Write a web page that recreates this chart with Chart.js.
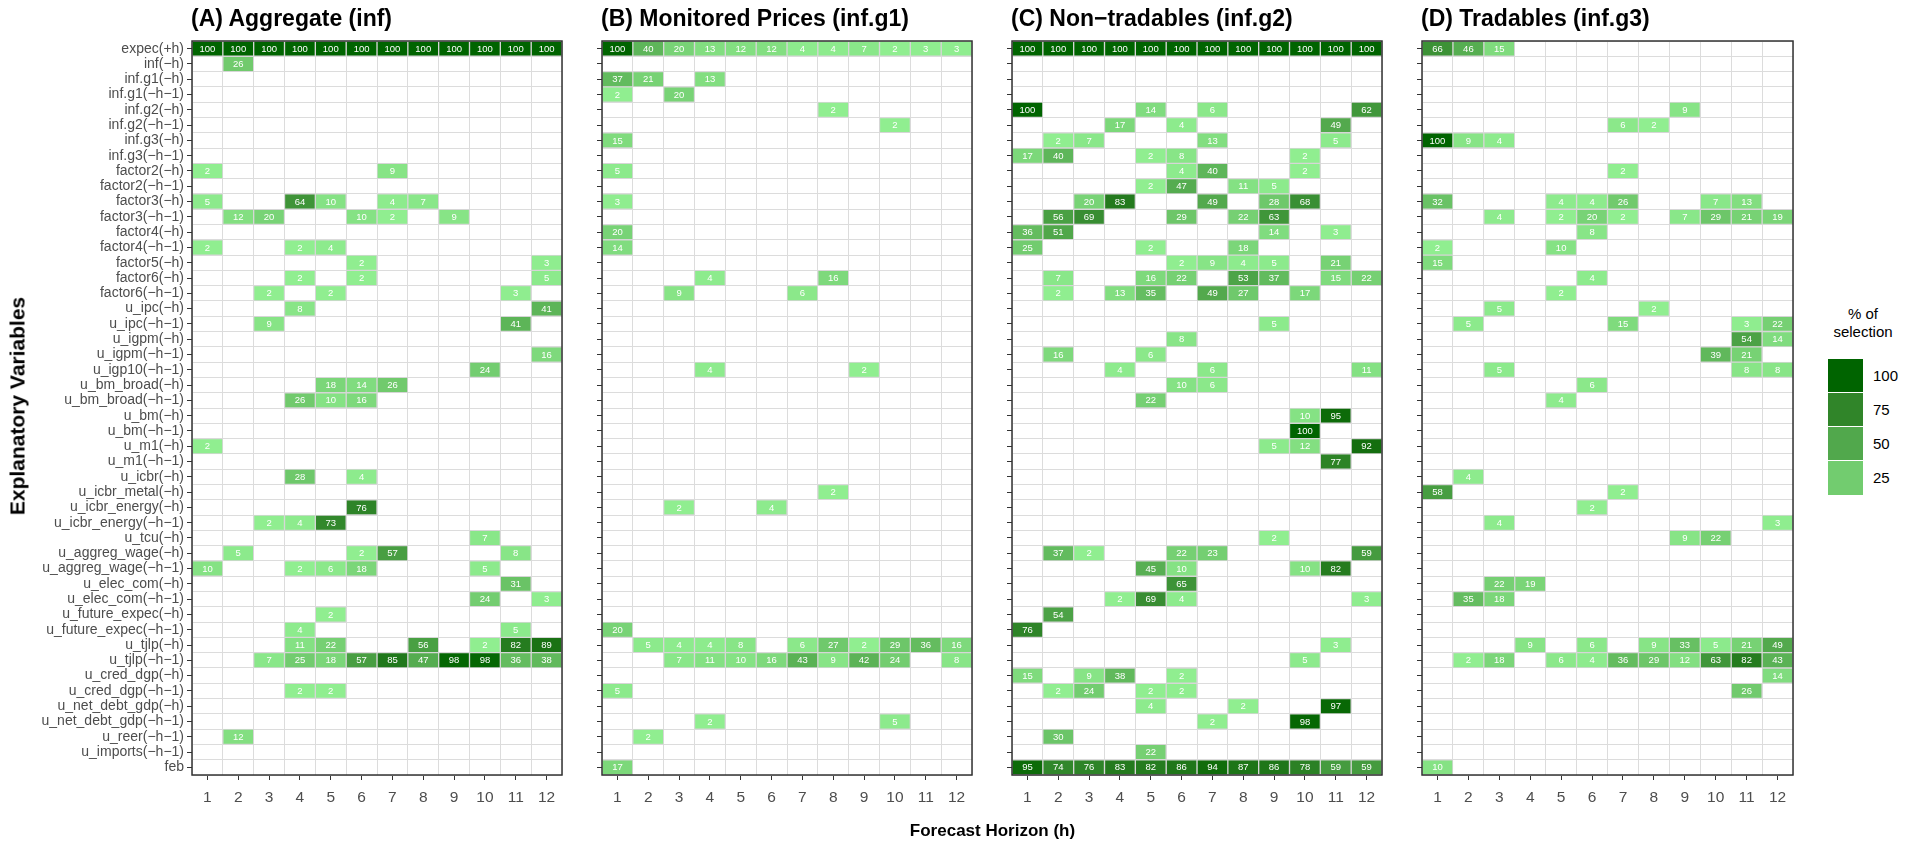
<!DOCTYPE html>
<html>
<head>
<meta charset="utf-8">
<script src="https://cdn.jsdelivr.net/npm/chart.js@4.4.1/dist/chart.umd.min.js"></script>
<style>
  html, body { margin:0; padding:0; background:#ffffff; }
  body { width:1919px; height:843px; position:relative; overflow:hidden; font-family:"Liberation Sans", Arial, sans-serif; }
  canvas { position:absolute; top:0; }
  .ptitle { position:absolute; top:7px; font-weight:bold; font-size:23px; line-height:23px; color:#000; white-space:nowrap; }
  #xtitle { position:absolute; left:0; width:1985px; text-align:center; top:822px; font-weight:bold; font-size:17px; line-height:17px; }
  #ytitle { position:absolute; left:17px; top:406px; transform:translate(-50%,-50%) rotate(-90deg); font-weight:bold; font-size:21px; line-height:21px; white-space:nowrap; }
  #legend { position:absolute; left:1810px; top:305px; width:110px; }
  #legend .lt { text-align:center; font-size:15px; line-height:18px; margin-left:-2px; width:110px; }
  #legend .row { position:absolute; left:18px; width:35px; height:34px; }
  #legend .lab { position:absolute; left:63px; font-size:15px; line-height:34px; }
</style>
</head>
<body>
<canvas id="cA"></canvas>
<canvas id="cB"></canvas>
<canvas id="cC"></canvas>
<canvas id="cD"></canvas>
<div id="titles"></div>
<div id="xtitle">Forecast Horizon (h)</div>
<div id="ytitle">Explanatory Variables</div>
<div id="legend"><div class="lt">% of<br>selection</div></div>
<script>
const rowLabels = [
  "expec(+h)","inf(−h)","inf.g1(−h)","inf.g1(−h−1)","inf.g2(−h)","inf.g2(−h−1)",
  "inf.g3(−h)","inf.g3(−h−1)","factor2(−h)","factor2(−h−1)","factor3(−h)","factor3(−h−1)",
  "factor4(−h)","factor4(−h−1)","factor5(−h)","factor6(−h)","factor6(−h−1)","u_ipc(−h)",
  "u_ipc(−h−1)","u_igpm(−h)","u_igpm(−h−1)","u_igp10(−h−1)","u_bm_broad(−h)","u_bm_broad(−h−1)",
  "u_bm(−h)","u_bm(−h−1)","u_m1(−h)","u_m1(−h−1)","u_icbr(−h)","u_icbr_metal(−h)",
  "u_icbr_energy(−h)","u_icbr_energy(−h−1)","u_tcu(−h)","u_aggreg_wage(−h)","u_aggreg_wage(−h−1)","u_elec_com(−h)",
  "u_elec_com(−h−1)","u_future_expec(−h)","u_future_expec(−h−1)","u_tjlp(−h)","u_tjlp(−h−1)","u_cred_dgp(−h)",
  "u_cred_dgp(−h−1)","u_net_debt_gdp(−h)","u_net_debt_gdp(−h−1)","u_reer(−h−1)","u_imports(−h−1)","feb"
];
const horizons = [1,2,3,4,5,6,7,8,9,10,11,12];
const horizonTickLabels = ["1","2","3","4","5","6","7","8","9","10","11","12"];
const panelTitles = ["(A) Aggregate (inf)","(B) Monitored Prices (inf.g1)","(C) Non−tradables (inf.g2)","(D) Tradables (inf.g3)"];
const legendBreaks = [100,75,50,25];

// (A) Aggregate — one row per explanatory variable, one column per horizon (0 = not selected)
const aggregateValues = [
  [100,100,100,100,100,100,100,100,100,100,100,100],
  [0,26,0,0,0,0,0,0,0,0,0,0],
  [0,0,0,0,0,0,0,0,0,0,0,0],
  [0,0,0,0,0,0,0,0,0,0,0,0],
  [0,0,0,0,0,0,0,0,0,0,0,0],
  [0,0,0,0,0,0,0,0,0,0,0,0],
  [0,0,0,0,0,0,0,0,0,0,0,0],
  [0,0,0,0,0,0,0,0,0,0,0,0],
  [2,0,0,0,0,0,9,0,0,0,0,0],
  [0,0,0,0,0,0,0,0,0,0,0,0],
  [5,0,0,64,10,0,4,7,0,0,0,0],
  [0,12,20,0,0,10,2,0,9,0,0,0],
  [0,0,0,0,0,0,0,0,0,0,0,0],
  [2,0,0,2,4,0,0,0,0,0,0,0],
  [0,0,0,0,0,2,0,0,0,0,0,3],
  [0,0,0,2,0,2,0,0,0,0,0,5],
  [0,0,2,0,2,0,0,0,0,0,3,0],
  [0,0,0,8,0,0,0,0,0,0,0,41],
  [0,0,9,0,0,0,0,0,0,0,41,0],
  [0,0,0,0,0,0,0,0,0,0,0,0],
  [0,0,0,0,0,0,0,0,0,0,0,16],
  [0,0,0,0,0,0,0,0,0,24,0,0],
  [0,0,0,0,18,14,26,0,0,0,0,0],
  [0,0,0,26,10,16,0,0,0,0,0,0],
  [0,0,0,0,0,0,0,0,0,0,0,0],
  [0,0,0,0,0,0,0,0,0,0,0,0],
  [2,0,0,0,0,0,0,0,0,0,0,0],
  [0,0,0,0,0,0,0,0,0,0,0,0],
  [0,0,0,28,0,4,0,0,0,0,0,0],
  [0,0,0,0,0,0,0,0,0,0,0,0],
  [0,0,0,0,0,76,0,0,0,0,0,0],
  [0,0,2,4,73,0,0,0,0,0,0,0],
  [0,0,0,0,0,0,0,0,0,7,0,0],
  [0,5,0,0,0,2,57,0,0,0,8,0],
  [10,0,0,2,6,18,0,0,0,5,0,0],
  [0,0,0,0,0,0,0,0,0,0,31,0],
  [0,0,0,0,0,0,0,0,0,24,0,3],
  [0,0,0,0,2,0,0,0,0,0,0,0],
  [0,0,0,4,0,0,0,0,0,0,5,0],
  [0,0,0,11,22,0,0,56,0,2,82,89],
  [0,0,7,25,18,57,85,47,98,98,36,38],
  [0,0,0,0,0,0,0,0,0,0,0,0],
  [0,0,0,2,2,0,0,0,0,0,0,0],
  [0,0,0,0,0,0,0,0,0,0,0,0],
  [0,0,0,0,0,0,0,0,0,0,0,0],
  [0,12,0,0,0,0,0,0,0,0,0,0],
  [0,0,0,0,0,0,0,0,0,0,0,0],
  [0,0,0,0,0,0,0,0,0,0,0,0]
];

// (B) Monitored Prices
const monitoredValues = [
  [100,40,20,13,12,12,4,4,7,2,3,3],
  [0,0,0,0,0,0,0,0,0,0,0,0],
  [37,21,0,13,0,0,0,0,0,0,0,0],
  [2,0,20,0,0,0,0,0,0,0,0,0],
  [0,0,0,0,0,0,0,2,0,0,0,0],
  [0,0,0,0,0,0,0,0,0,2,0,0],
  [15,0,0,0,0,0,0,0,0,0,0,0],
  [0,0,0,0,0,0,0,0,0,0,0,0],
  [5,0,0,0,0,0,0,0,0,0,0,0],
  [0,0,0,0,0,0,0,0,0,0,0,0],
  [3,0,0,0,0,0,0,0,0,0,0,0],
  [0,0,0,0,0,0,0,0,0,0,0,0],
  [20,0,0,0,0,0,0,0,0,0,0,0],
  [14,0,0,0,0,0,0,0,0,0,0,0],
  [0,0,0,0,0,0,0,0,0,0,0,0],
  [0,0,0,4,0,0,0,16,0,0,0,0],
  [0,0,9,0,0,0,6,0,0,0,0,0],
  [0,0,0,0,0,0,0,0,0,0,0,0],
  [0,0,0,0,0,0,0,0,0,0,0,0],
  [0,0,0,0,0,0,0,0,0,0,0,0],
  [0,0,0,0,0,0,0,0,0,0,0,0],
  [0,0,0,4,0,0,0,0,2,0,0,0],
  [0,0,0,0,0,0,0,0,0,0,0,0],
  [0,0,0,0,0,0,0,0,0,0,0,0],
  [0,0,0,0,0,0,0,0,0,0,0,0],
  [0,0,0,0,0,0,0,0,0,0,0,0],
  [0,0,0,0,0,0,0,0,0,0,0,0],
  [0,0,0,0,0,0,0,0,0,0,0,0],
  [0,0,0,0,0,0,0,0,0,0,0,0],
  [0,0,0,0,0,0,0,2,0,0,0,0],
  [0,0,2,0,0,4,0,0,0,0,0,0],
  [0,0,0,0,0,0,0,0,0,0,0,0],
  [0,0,0,0,0,0,0,0,0,0,0,0],
  [0,0,0,0,0,0,0,0,0,0,0,0],
  [0,0,0,0,0,0,0,0,0,0,0,0],
  [0,0,0,0,0,0,0,0,0,0,0,0],
  [0,0,0,0,0,0,0,0,0,0,0,0],
  [0,0,0,0,0,0,0,0,0,0,0,0],
  [20,0,0,0,0,0,0,0,0,0,0,0],
  [0,5,4,4,8,0,6,27,2,29,36,16],
  [0,0,7,11,10,16,43,9,42,24,0,8],
  [0,0,0,0,0,0,0,0,0,0,0,0],
  [5,0,0,0,0,0,0,0,0,0,0,0],
  [0,0,0,0,0,0,0,0,0,0,0,0],
  [0,0,0,2,0,0,0,0,0,5,0,0],
  [0,2,0,0,0,0,0,0,0,0,0,0],
  [0,0,0,0,0,0,0,0,0,0,0,0],
  [17,0,0,0,0,0,0,0,0,0,0,0]
];

// (C) Non-tradables
const nonTradableValues = [
  [100,100,100,100,100,100,100,100,100,100,100,100],
  [0,0,0,0,0,0,0,0,0,0,0,0],
  [0,0,0,0,0,0,0,0,0,0,0,0],
  [0,0,0,0,0,0,0,0,0,0,0,0],
  [100,0,0,0,14,0,6,0,0,0,0,62],
  [0,0,0,17,0,4,0,0,0,0,49,0],
  [0,2,7,0,0,0,13,0,0,0,5,0],
  [17,40,0,0,2,8,0,0,0,2,0,0],
  [0,0,0,0,0,4,40,0,0,2,0,0],
  [0,0,0,0,2,47,0,11,5,0,0,0],
  [0,0,20,83,0,0,49,0,28,68,0,0],
  [0,56,69,0,0,29,0,22,63,0,0,0],
  [36,51,0,0,0,0,0,0,14,0,3,0],
  [25,0,0,0,2,0,0,18,0,0,0,0],
  [0,0,0,0,0,2,9,4,5,0,21,0],
  [0,7,0,0,16,22,0,53,37,0,15,22],
  [0,2,0,13,35,0,49,27,0,17,0,0],
  [0,0,0,0,0,0,0,0,0,0,0,0],
  [0,0,0,0,0,0,0,0,5,0,0,0],
  [0,0,0,0,0,8,0,0,0,0,0,0],
  [0,16,0,0,6,0,0,0,0,0,0,0],
  [0,0,0,4,0,0,6,0,0,0,0,11],
  [0,0,0,0,0,10,6,0,0,0,0,0],
  [0,0,0,0,22,0,0,0,0,0,0,0],
  [0,0,0,0,0,0,0,0,0,10,95,0],
  [0,0,0,0,0,0,0,0,0,100,0,0],
  [0,0,0,0,0,0,0,0,5,12,0,92],
  [0,0,0,0,0,0,0,0,0,0,77,0],
  [0,0,0,0,0,0,0,0,0,0,0,0],
  [0,0,0,0,0,0,0,0,0,0,0,0],
  [0,0,0,0,0,0,0,0,0,0,0,0],
  [0,0,0,0,0,0,0,0,0,0,0,0],
  [0,0,0,0,0,0,0,0,2,0,0,0],
  [0,37,2,0,0,22,23,0,0,0,0,59],
  [0,0,0,0,45,10,0,0,0,10,82,0],
  [0,0,0,0,0,65,0,0,0,0,0,0],
  [0,0,0,2,69,4,0,0,0,0,0,3],
  [0,54,0,0,0,0,0,0,0,0,0,0],
  [76,0,0,0,0,0,0,0,0,0,0,0],
  [0,0,0,0,0,0,0,0,0,0,3,0],
  [0,0,0,0,0,0,0,0,0,5,0,0],
  [15,0,9,38,0,2,0,0,0,0,0,0],
  [0,2,24,0,2,2,0,0,0,0,0,0],
  [0,0,0,0,4,0,0,2,0,0,97,0],
  [0,0,0,0,0,0,2,0,0,98,0,0],
  [0,30,0,0,0,0,0,0,0,0,0,0],
  [0,0,0,0,22,0,0,0,0,0,0,0],
  [95,74,76,83,82,86,94,87,86,78,59,59]
];

// (D) Tradables
const tradableValues = [
  [66,46,15,0,0,0,0,0,0,0,0,0],
  [0,0,0,0,0,0,0,0,0,0,0,0],
  [0,0,0,0,0,0,0,0,0,0,0,0],
  [0,0,0,0,0,0,0,0,0,0,0,0],
  [0,0,0,0,0,0,0,0,9,0,0,0],
  [0,0,0,0,0,0,6,2,0,0,0,0],
  [100,9,4,0,0,0,0,0,0,0,0,0],
  [0,0,0,0,0,0,0,0,0,0,0,0],
  [0,0,0,0,0,0,2,0,0,0,0,0],
  [0,0,0,0,0,0,0,0,0,0,0,0],
  [32,0,0,0,4,4,26,0,0,7,13,0],
  [0,0,4,0,2,20,2,0,7,29,21,19],
  [0,0,0,0,0,8,0,0,0,0,0,0],
  [2,0,0,0,10,0,0,0,0,0,0,0],
  [15,0,0,0,0,0,0,0,0,0,0,0],
  [0,0,0,0,0,4,0,0,0,0,0,0],
  [0,0,0,0,2,0,0,0,0,0,0,0],
  [0,0,5,0,0,0,0,2,0,0,0,0],
  [0,5,0,0,0,0,15,0,0,0,3,22],
  [0,0,0,0,0,0,0,0,0,0,54,14],
  [0,0,0,0,0,0,0,0,0,39,21,0],
  [0,0,5,0,0,0,0,0,0,0,8,8],
  [0,0,0,0,0,6,0,0,0,0,0,0],
  [0,0,0,0,4,0,0,0,0,0,0,0],
  [0,0,0,0,0,0,0,0,0,0,0,0],
  [0,0,0,0,0,0,0,0,0,0,0,0],
  [0,0,0,0,0,0,0,0,0,0,0,0],
  [0,0,0,0,0,0,0,0,0,0,0,0],
  [0,4,0,0,0,0,0,0,0,0,0,0],
  [58,0,0,0,0,0,2,0,0,0,0,0],
  [0,0,0,0,0,2,0,0,0,0,0,0],
  [0,0,4,0,0,0,0,0,0,0,0,3],
  [0,0,0,0,0,0,0,0,9,22,0,0],
  [0,0,0,0,0,0,0,0,0,0,0,0],
  [0,0,0,0,0,0,0,0,0,0,0,0],
  [0,0,22,19,0,0,0,0,0,0,0,0],
  [0,35,18,0,0,0,0,0,0,0,0,0],
  [0,0,0,0,0,0,0,0,0,0,0,0],
  [0,0,0,0,0,0,0,0,0,0,0,0],
  [0,0,0,9,0,6,0,9,33,5,21,49],
  [0,2,18,0,6,4,36,29,12,63,82,43],
  [0,0,0,0,0,0,0,0,0,0,0,14],
  [0,0,0,0,0,0,0,0,0,0,26,0],
  [0,0,0,0,0,0,0,0,0,0,0,0],
  [0,0,0,0,0,0,0,0,0,0,0,0],
  [0,0,0,0,0,0,0,0,0,0,0,0],
  [0,0,0,0,0,0,0,0,0,0,0,0],
  [10,0,0,0,0,0,0,0,0,0,0,0]
];

const FONT = '"Liberation Sans", Arial, sans-serif';
Chart.defaults.font.family = FONT;

// ---- colour scale: gradient lightgreen -> darkgreen, interpolated in CIE Lab ----
const lowRGB = [144,238,144], highRGB = [0,100,0];
const scaleMin = 2, scaleMax = 100;
function toLin(c){ c/=255; return c<=0.04045 ? c/12.92 : Math.pow((c+0.055)/1.055,2.4); }
function fromLin(c){ const v = c<=0.0031308 ? 12.92*c : 1.055*Math.pow(c,1/2.4)-0.055; return Math.max(0,Math.min(255,Math.round(v*255))); }
const Xn=0.95047, Yn=1.0, Zn=1.08883;
function fLab(t){ return t>0.008856 ? Math.cbrt(t) : 7.787*t + 16/116; }
function fInv(t){ return t>0.206893 ? t*t*t : (t-16/116)/7.787; }
function rgb2lab(c){
  const r=toLin(c[0]), g=toLin(c[1]), b=toLin(c[2]);
  const X=0.4124*r+0.3576*g+0.1805*b, Y=0.2126*r+0.7152*g+0.0722*b, Z=0.0193*r+0.1192*g+0.9505*b;
  const fx=fLab(X/Xn), fy=fLab(Y/Yn), fz=fLab(Z/Zn);
  return [116*fy-16, 500*(fx-fy), 200*(fy-fz)];
}
function lab2rgb(l){
  const fy=(l[0]+16)/116, fx=fy+l[1]/500, fz=fy-l[2]/200;
  const X=Xn*fInv(fx), Y=Yn*fInv(fy), Z=Zn*fInv(fz);
  const r= 3.2406*X-1.5372*Y-0.4986*Z, g=-0.9689*X+1.8758*Y+0.0415*Z, b=0.0557*X-0.2040*Y+1.0570*Z;
  return [fromLin(r),fromLin(g),fromLin(b)];
}
const lowLab = rgb2lab(lowRGB), highLab = rgb2lab(highRGB);
function fillFor(v){
  const t = Math.max(0, Math.min(1, (v - scaleMin)/(scaleMax - scaleMin)));
  const c = lab2rgb([0,1,2].map(k => lowLab[k] + t*(highLab[k]-lowLab[k])));
  return 'rgb(' + c.join(',') + ')';
}

// ---- plugins ----
const cellLabelPlugin = {
  id: 'cellLabels',
  afterDatasetsDraw(chart) {
    const ctx = chart.ctx;
    ctx.save();
    ctx.fillStyle = '#ffffff';
    ctx.font = '9.5px ' + FONT;
    ctx.textAlign = 'center';
    ctx.textBaseline = 'middle';
    chart.data.datasets.forEach((ds, di) => {
      const meta = chart.getDatasetMeta(di);
      meta.data.forEach((el, i) => {
        const v = ds.cellValues[i];
        if (!v) return;
        const p = el.getProps(['x','y','base'], true);
        ctx.fillText(String(v), (p.x + p.base) / 2, p.y + 0.5);
      });
    });
    ctx.restore();
  }
};
const framePlugin = {
  id: 'frame',
  afterDraw(chart) {
    const a = chart.chartArea, ctx = chart.ctx;
    ctx.save();
    ctx.strokeStyle = '#333333';
    ctx.lineWidth = 1.5;
    ctx.strokeRect(a.left, a.top, a.right - a.left, a.bottom - a.top);
    ctx.restore();
  }
};

function makeChart(canvasId, left, width, values, showY, axisW) {
  const cv = document.getElementById(canvasId);
  cv.width = width; cv.height = 843;
  cv.style.left = left + 'px'; cv.style.width = width + 'px'; cv.style.height = '843px';
  const datasets = horizons.map((h, j) => ({
    label: 'h' + h,
    data: rowLabels.map((_, i) => values[i][j] > 0 ? [h - 0.5, h + 0.5] : null),
    cellValues: rowLabels.map((_, i) => values[i][j]),
    backgroundColor: rowLabels.map((_, i) => values[i][j] > 0 ? fillFor(values[i][j]) : 'rgba(0,0,0,0)'),
    borderColor: '#d6d6d6',
    borderWidth: 1,
    borderSkipped: false,
    grouped: false,
    barPercentage: 1,
    categoryPercentage: 1,
    xAxisID: 'x',
    yAxisID: 'y'
  }));
  return new Chart(cv, {
    type: 'bar',
    data: { labels: rowLabels, datasets },
    options: {
      indexAxis: 'y',
      responsive: false,
      animation: false,
      devicePixelRatio: 1,
      layout: { padding: { top: 41, bottom: 32, left: 0, right: 2 } },
      plugins: { legend: { display: false }, tooltip: { enabled: false }, title: { display: false } },
      scales: {
        x: {
          type: 'linear', position: 'bottom', min: 0.5, max: 12.5, bounds: 'data', beginAtZero: false,
          afterBuildTicks: s => { s.ticks = horizons.map(v => ({ value: v })); },
          afterFit: s => { s.height = 36; },
          grid: { drawOnChartArea: false, drawTicks: true, tickLength: 5, color: '#333333', lineWidth: 1 },
          border: { display: false },
          ticks: { color: '#4d4d4d', font: { size: 15.5 }, padding: 8, maxRotation: 0, autoSkip: false,
                   callback: (v, idx) => horizonTickLabels[idx] }
        },
        xg: {
          type: 'linear', position: 'top', min: 0.5, max: 12.5, bounds: 'data', beginAtZero: false,
          afterBuildTicks: s => { s.ticks = horizons.map(v => ({ value: v - 0.5 })).concat([{ value: 12.5 }]); },
          afterFit: s => { s.height = 0; },
          grid: { color: '#dcdcdc', lineWidth: 1, drawTicks: false },
          ticks: { display: false },
          border: { display: false }
        },
        y: {
          type: 'category', position: 'left', offset: true,
          grid: { offset: false, drawOnChartArea: false, drawTicks: true, tickLength: 5, color: '#333333', lineWidth: 1 },
          border: { display: false },
          ticks: { display: showY, color: '#4d4d4d', font: { size: 14 }, padding: 3, autoSkip: false },
          afterFit: s => { s.width = axisW; }
        },
        yg: {
          type: 'category', position: 'right', offset: true,
          grid: { offset: true, color: '#dcdcdc', lineWidth: 1, drawTicks: false },
          ticks: { display: false },
          border: { display: false },
          afterFit: s => { s.width = 0; }
        }
      }
    },
    plugins: [cellLabelPlugin, framePlugin]
  });
}

const panelLefts = [192, 602, 1012, 1422];
makeChart('cA', 0, 192 + 370 + 2, aggregateValues, true, 192);
makeChart('cB', panelLefts[1] - 12, 12 + 370 + 2, monitoredValues, false, 12);
makeChart('cC', panelLefts[2] - 12, 12 + 370 + 2, nonTradableValues, false, 12);
makeChart('cD', panelLefts[3] - 12, 12 + 371 + 2, tradableValues, false, 12);

// panel titles
const tWrap = document.getElementById('titles');
panelTitles.forEach((t, k) => {
  const d = document.createElement('div');
  d.className = 'ptitle';
  d.style.left = (panelLefts[k] - 1) + 'px';
  d.textContent = t;
  tWrap.appendChild(d);
});

// legend
const lg = document.getElementById('legend');
legendBreaks.forEach((b, k) => {
  const key = document.createElement('div');
  key.className = 'row';
  key.style.top = (54 + k * 34) + 'px';
  key.style.background = fillFor(b);
  key.style.borderBottom = k < legendBreaks.length - 1 ? '1px solid #ffffff' : 'none';
  key.style.boxSizing = 'border-box';
  lg.appendChild(key);
  const lab = document.createElement('div');
  lab.className = 'lab';
  lab.style.top = (54 + k * 34) + 'px';
  lab.textContent = String(b);
  lg.appendChild(lab);
});
</script>
</body>
</html>
